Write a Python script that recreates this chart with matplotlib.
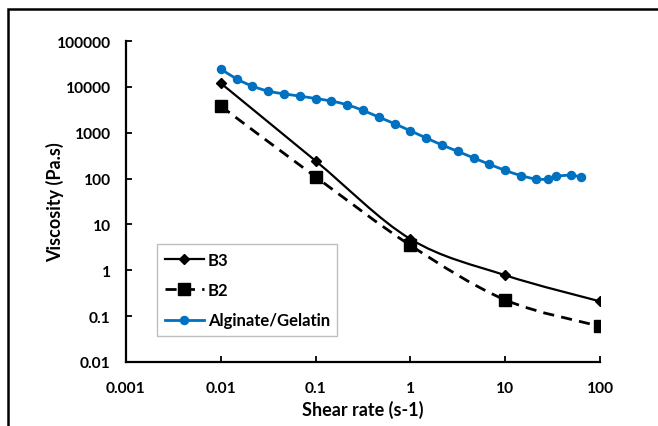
import numpy as np
import matplotlib
matplotlib.use("Agg")
import matplotlib.pyplot as plt
from matplotlib.path import Path
from matplotlib.patches import PathPatch, Rectangle
from matplotlib.lines import Line2D

plt.rcParams['font.family'] = ['Lato', 'DejaVu Sans']
plt.rcParams['font.weight'] = 'bold'

# --- data ---
shear_b = [0.01, 0.1, 1, 10, 100]
visc_b3 = [12000, 243, 4.8, 0.78, 0.21]
visc_b2 = [3800, 109, 3.5, 0.226, 0.06]

shear_ag = [0.01, 0.0147, 0.0215, 0.0316, 0.0464, 0.0681, 0.1, 0.147, 0.215,
            0.316, 0.464, 0.681, 1, 1.47, 2.15, 3.16, 4.64, 6.81, 10, 14.7,
            21, 28.5, 34, 49, 63]
visc_ag = [24600, 14900, 10400, 8070, 7050, 6280, 5570, 4890, 4060, 3060,
           2190, 1570, 1100, 767, 541, 392, 282, 205, 151, 116, 98, 97, 112,
           118, 109]

x_ticks = [0.001, 0.01, 0.1, 1, 10, 100]
x_labels = ['0.001', '0.01', '0.1', '1', '10', '100']
y_ticks = [0.01, 0.1, 1, 10, 100, 1000, 10000, 100000]
y_labels = ['0.01', '0.1', '1', '10', '100', '1000', '10000', '100000']


def smooth_path(xs, ys):
    # Excel-like smoothed line as cubic Bezier segments in log-log space
    lx = np.log10(xs)
    ly = np.log10(ys)
    n = len(lx)
    verts = [(lx[0], ly[0])]
    codes = [Path.MOVETO]
    for i in range(n - 1):
        i0 = max(i - 1, 0)
        i3 = min(i + 2, n - 1)
        c1 = (lx[i] + (lx[i + 1] - lx[i0]) / 6, ly[i] + (ly[i + 1] - ly[i0]) / 6)
        c2 = (lx[i + 1] - (lx[i3] - lx[i]) / 6, ly[i + 1] - (ly[i3] - ly[i]) / 6)
        verts += [c1, c2, (lx[i + 1], ly[i + 1])]
        codes += [Path.CURVE4] * 3
    verts = [(10 ** a, 10 ** b) for a, b in verts]
    return Path(verts, codes)


fig = plt.figure(figsize=(6.58, 4.27), dpi=100)
ax = fig.add_axes([126 / 658, 1 - 363 / 427, 474 / 658, 321 / 427])
ax.set_xscale('log')
ax.set_yscale('log')
ax.set_xlim(0.001, 100)
ax.set_ylim(0.01, 100000)

blue = '#0070C0'

ax.add_patch(PathPatch(smooth_path(shear_b, visc_b3), fill=False,
                       edgecolor='black', lw=1.6, zorder=2))
ax.plot(shear_b, visc_b3, ls='none', marker='D', ms=5.5, color='black', zorder=3)

ax.add_patch(PathPatch(smooth_path(shear_b, visc_b2), fill=False,
                       edgecolor='black', lw=2.0, ls=(0, (4, 2.6)), zorder=2))
ax.plot(shear_b, visc_b2, ls='none', marker='s', ms=8, color='black', zorder=3)

ax.add_patch(PathPatch(smooth_path(shear_ag, visc_ag), fill=False,
                       edgecolor=blue, lw=2.0, zorder=2))
ax.plot(shear_ag, visc_ag, ls='none', marker='o', ms=5.8, color=blue, zorder=3)

ax.set_xticks(x_ticks)
ax.set_xticklabels(x_labels)
ax.set_yticks(y_ticks)
ax.set_yticklabels(y_labels)
ax.minorticks_off()
ax.tick_params(axis='both', direction='in', length=4, width=1.3,
               labelsize=11.2, colors='black')
ax.tick_params(axis='x', pad=13.5)
ax.tick_params(axis='y', pad=11)
for lab in ax.get_xticklabels() + ax.get_yticklabels():
    lab.set_fontweight('bold')

for s in ['top', 'right']:
    ax.spines[s].set_visible(False)
for s in ['left', 'bottom']:
    ax.spines[s].set_linewidth(1.6)

ax.set_xlabel('Shear rate (s-1)', fontsize=13, fontweight='bold')
ax.set_ylabel('Viscosity (Pa.s)', fontsize=13, fontweight='bold')
ax.xaxis.set_label_coords(0.5, -(401 - 363) / 321)
ax.yaxis.set_label_coords(-(126 - 64) / 474, 0.5)

handles = [
    Line2D([], [], color='black', lw=1.6, marker='D', ms=5.5),
    Line2D([], [], color='black', lw=2.0, ls=(0, (4, 2.6)), marker='s', ms=8),
    Line2D([], [], color=blue, lw=2.0, marker='o', ms=5.8),
]
leg = ax.legend(handles, ['B3', 'B2', 'Alginate/Gelatin'],
                loc='lower left', bbox_to_anchor=((157 - 126) / 474, (363 - 337) / 321),
                borderaxespad=0, fancybox=False, framealpha=1, edgecolor='#BFBFBF',
                prop={'weight': 'bold', 'size': 12},
                handlelength=2.35, handletextpad=0.25, labelspacing=0.86,
                borderpad=0.45)
leg.get_frame().set_linewidth(1.0)

# outer border of the chart area
fig.patches.append(Rectangle((8 / 658, -0.1), 1.2, 1 - 10 / 427 + 0.1,
                             transform=fig.transFigure, fill=False,
                             edgecolor='black', lw=1.8))

fig.savefig('out.png', dpi=100)
